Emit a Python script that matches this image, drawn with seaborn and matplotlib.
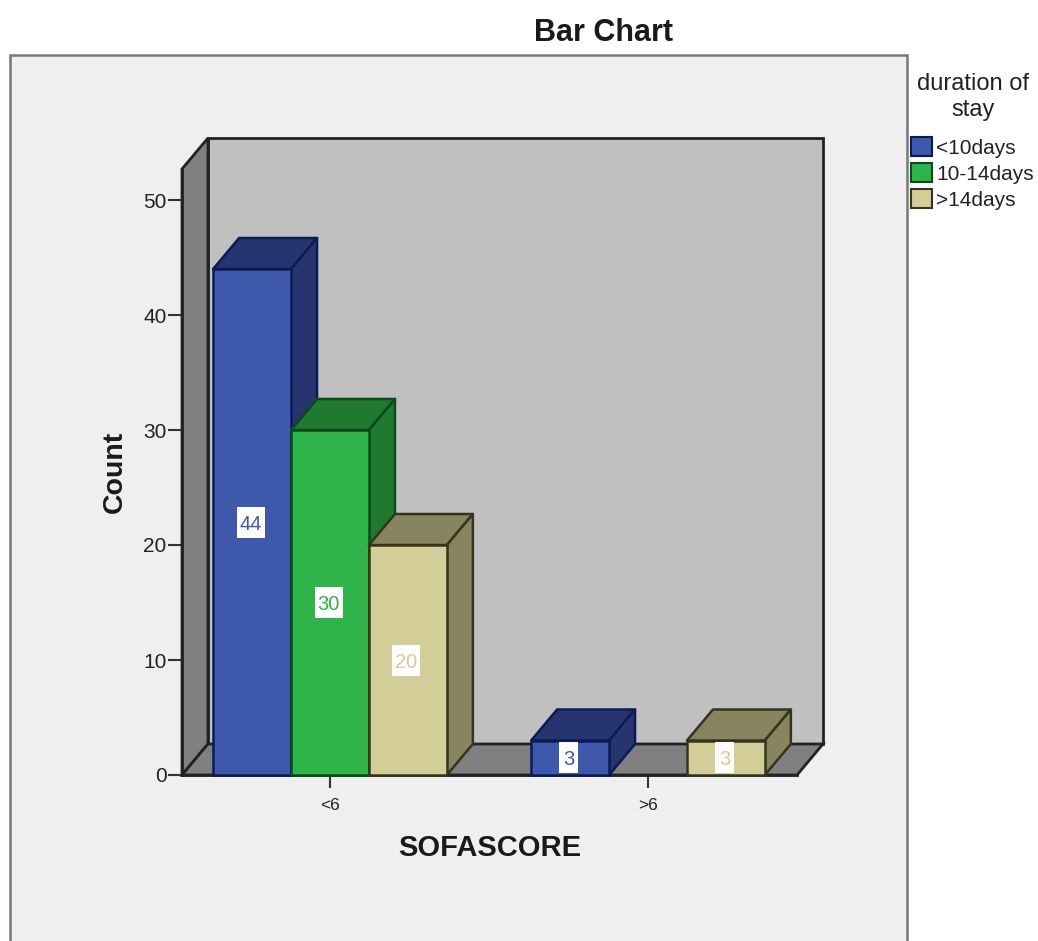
import matplotlib
matplotlib.use("Agg")
import matplotlib.pyplot as plt
from matplotlib.patches import Patch, Polygon, Rectangle
import pandas as pd
import seaborn as sns

# Counts of patients by SOFA score group and duration of stay
sofa_groups = ["<6", "<6", "<6", ">6", ">6"]
stay_groups = ["<10days", "10-14days", ">14days", "<10days", ">14days"]
counts = [44, 30, 20, 3, 3]
sofa_order = ["<6", ">6"]
stay_order = ["<10days", "10-14days", ">14days"]

front_colors = ["#3E58AC", "#2FB44A", "#D3CE97"]
shade_colors = ["#263570", "#1F7A30", "#878460"]
edge_colors = ["#0B1B55", "#0C4A1C", "#35351F"]

W, H = 1038, 941
FONT = "Liberation Sans"
sns.set_theme(style="white", rc={"font.family": FONT})

df = pd.DataFrame({"SOFASCORE": sofa_groups, "stay": stay_groups, "Count": counts})

fig = plt.figure(figsize=(W / 100, H / 100), dpi=100, facecolor="white")

# Outer panel, open at the bottom edge of the figure
fig.add_artist(Rectangle((10 / W, -0.01), 897 / W, 1.01 - 55 / H, transform=fig.transFigure,
                         facecolor="#EFEFEF", edgecolor="#777777", linewidth=1.8, zorder=-1))

# Front plane of the plot box
left, right, bottom, top = 182, 797, 775, 169
ax = fig.add_axes([left / W, 1 - bottom / H, (right - left) / W, (bottom - top) / H])
ax.set_facecolor("none")

sns.barplot(data=df, x="SOFASCORE", y="Count", hue="stay", order=sofa_order, hue_order=stay_order,
            palette=front_colors, width=0.735, gap=0, saturation=1, legend=False, ax=ax)

ax.set_xlim((left - 330) / 318, (right - 330) / 318)
ax.set_ylim(0, (bottom - top) / 11.5)
ax.set_yticks([0, 10, 20, 30, 40, 50])

# Size of one pixel in data units, and the oblique depth of the box
px_x, px_y = 1 / 318, 1 / 11.5
dx, dy = 26 * px_x, 31 * px_y
x0, x1 = ax.get_xlim()
y0, y1 = ax.get_ylim()
box = dict(closed=True, clip_on=False, edgecolor="#222222", linewidth=2.0, joinstyle="miter")
ax.add_patch(Polygon([(x0 + dx, y0 + dy), (x1 + dx, y0 + dy), (x1 + dx, y1 + dy), (x0 + dx, y1 + dy)],
                     facecolor="#C0C0C0", zorder=0.2, **box))
ax.add_patch(Polygon([(x0, y0), (x0 + dx, y0 + dy), (x0 + dx, y1 + dy), (x0, y1)],
                     facecolor="#808080", zorder=0.3, **box))
ax.add_patch(Polygon([(x0, y0), (x1, y0), (x1 + dx, y0 + dy), (x0 + dx, y0 + dy)],
                     facecolor="#808080", zorder=0.3, **box))

# Extrude every bar, painting from left to right so neighbours overlap correctly
bars = []
for hue_index, container in enumerate(ax.containers):
    for bar in container:
        if bar.get_height() > 0:
            bars.append((bar, hue_index))
bars.sort(key=lambda item: item[0].get_x())

for order, (bar, hue_index) in enumerate(bars):
    xa, xb = bar.get_x(), bar.get_x() + bar.get_width()
    h = bar.get_height()
    z = 2 + order
    style = dict(closed=True, facecolor=shade_colors[hue_index], edgecolor=edge_colors[hue_index],
                 linewidth=1.8, joinstyle="round", zorder=z, clip_on=False)
    ax.add_patch(Polygon([(xa, h), (xb, h), (xb + dx, h + dy), (xa + dx, h + dy)], **style))
    ax.add_patch(Polygon([(xb, 0), (xb + dx, dy), (xb + dx, h + dy), (xb, h)], **style))
    bar.set_edgecolor(edge_colors[hue_index])
    bar.set_linewidth(1.8)
    bar.set_zorder(z + 0.1)
    bar.set_clip_on(False)

    # Value label on a white plate that never outgrows the bar
    label = f"{int(h)}"
    xc = xa + (xb - xa) / 2 - 1.5 * px_x
    plate_w = (10 + 9 * len(label)) * px_x
    plate_h = min(31 * px_y, h - 2.5 * px_y)
    ax.add_patch(Rectangle((xc - plate_w / 2, h / 2 - plate_h / 2), plate_w, plate_h, facecolor="white",
                           edgecolor="none", zorder=z + 0.2))
    ax.text(xc, h / 2, label, ha="center", va="center_baseline", fontsize=14.5, family=FONT,
            color=front_colors[hue_index], zorder=z + 0.3)

# Axis lines, ticks and titles
sns.despine(ax=ax)
for side in ("left", "bottom"):
    ax.spines[side].set_color("#222222")
    ax.spines[side].set_linewidth(2.0)
    ax.spines[side].set_zorder(1)
ax.tick_params(axis="y", length=10, width=1.5, color="#333333", labelsize=15, labelcolor="#222222",
               pad=1, left=True)
ax.tick_params(axis="x", length=9.5, width=1.5, color="#333333", labelsize=12.5, labelcolor="#222222",
               pad=7, bottom=True)
ax.set_xlabel("SOFASCORE", fontsize=21, fontweight="bold", color="#1A1A1A", labelpad=15, family=FONT)
ax.set_ylabel("Count", fontsize=20.5, fontweight="bold", color="#1A1A1A", labelpad=11, family=FONT)

fig.text(603 / W, 1 - 33 / H, "Bar Chart", fontsize=22, fontweight="bold", color="#1A1A1A",
         ha="center", va="center", family=FONT)

# Legend to the right of the panel
handles = [Patch(facecolor=f, edgecolor=e, linewidth=1.5) for f, e in zip(front_colors, edge_colors)]
legend = fig.legend(handles, stay_order, title="duration of\nstay", loc="upper left",
                    bbox_to_anchor=(905 / W, 1 - 67 / H), frameon=False, fontsize=15,
                    title_fontsize=17, handlelength=1.0, handleheight=1.0, handletextpad=0.2,
                    labelspacing=0.26, borderpad=0.3, borderaxespad=0, labelcolor="#222222")
legend.get_title().set_multialignment("center")
legend.get_title().set_color("#222222")
legend._legend_box.sep = 12

fig.savefig("out.png", dpi=100, facecolor="white")
